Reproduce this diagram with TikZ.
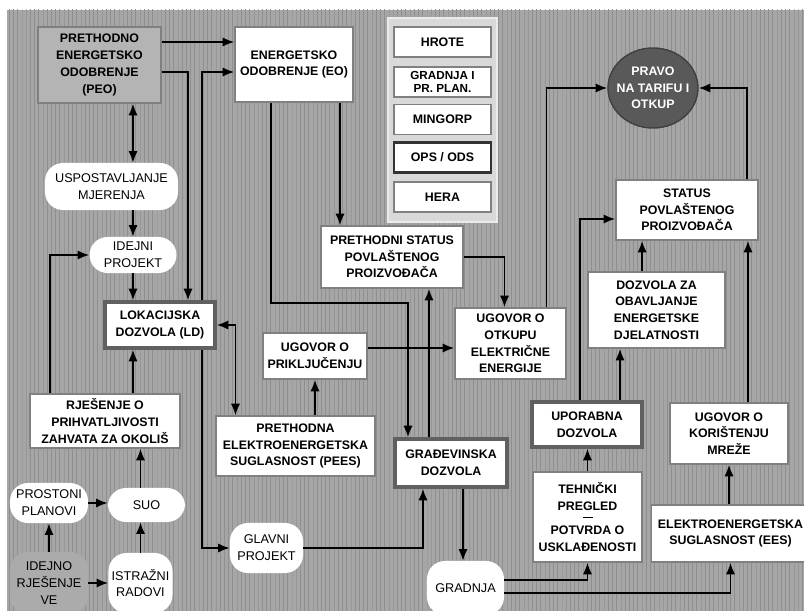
\documentclass[tikz,border=0pt]{standalone}
\usepackage{fontspec}
\setmainfont{Liberation Sans}
\usetikzlibrary{arrows.meta,positioning,calc,shapes.geometric,patterns}
\definecolor{bgray}{HTML}{A6A6A6}
\definecolor{stripe}{HTML}{8F8F8F}
\definecolor{edge}{HTML}{808080}
\definecolor{edgedk}{HTML}{606060}
\definecolor{peofill}{HTML}{B4B4B4}
\definecolor{vefill}{HTML}{ABABAB}
\definecolor{panel}{HTML}{D9D9D9}
\definecolor{pravofill}{HTML}{595959}

\begin{document}
\begin{tikzpicture}[x=0.025cm,y=-0.025cm,>={Latex[length=2.9mm,width=2.3mm]},
  txt/.style={font=\fontsize{8.8}{11.9}\selectfont\bfseries,align=center,inner sep=1pt},
  block/.style={txt,draw=edge,fill=white,line width=1pt},
  blockb/.style={block,draw=edgedk,line width=2.4pt},
  pill/.style={font=\fontsize{9}{11.9}\selectfont,align=center,fill=white,rounded corners=0.45cm,inner sep=1pt},
  leg/.style={block,minimum width=2.425cm,minimum height=0.75cm},
  con/.style={->,line width=1.3pt},
  con2/.style={<->,line width=1.3pt}]
  \useasboundingbox (0,0) rectangle (804,611);
  \clip (0,0) rectangle (804,611);
  % background
  \fill[white] (0,0) rectangle (804,611);
  \fill[bgray] (7,10) rectangle (804,611);
  \fill[pattern=vertical lines,pattern color=stripe] (7,10) rectangle (804,611);

  % legend
  \draw[fill=panel,draw=white!92!black,line width=1.5pt] (388,18) rectangle (497,222);
  \node[leg] (hrote) at (442.5,42) {HROTE};
  \node[leg,font=\fontsize{8.3}{8.9}\selectfont\bfseries] (gpp) at (442.5,82) {GRADNJA I\\PR. PLAN.};
  \node[leg] (mingorp) at (442.5,119.5) {MINGORP};
  \node[leg,draw=black!80,line width=1.8pt] (ops) at (442.5,157.5) {OPS / ODS};
  \node[leg] (hera) at (442.5,197) {HERA};

  % left column
  \node[block,fill=peofill,minimum width=3.075cm,minimum height=1.9cm] (peo) at (99.5,65) {PRETHODNO\\ENERGETSKO\\ODOBRENJE\\(PEO)};
  \node[block,minimum width=2.95cm,minimum height=1.875cm] (eo) at (294,64.5) {ENERGETSKO\\ODOBRENJE (EO)};
  \node[pill,minimum width=3.325cm,minimum height=1.175cm] (usp) at (111.5,186.5) {USPOSTAVLJANJE\\MJERENJA};
  \node[pill,minimum width=2.175cm,minimum height=0.9cm] (idejni) at (133,255) {IDEJNI\\PROJEKT};
  \node[blockb,minimum width=2.75cm,minimum height=1.15cm] (ld) at (160,325) {LOKACIJSKA\\DOZVOLA (LD)};
  \node[block,minimum width=3.75cm,minimum height=1.35cm] (rje) at (105,421) {RJEŠENJE O\\PRIHVATLJIVOSTI\\ZAHVATA ZA OKOLIŠ};
  \node[pill,minimum width=1.925cm,minimum height=0.85cm] (suo) at (146.5,505) {SUO};
  \node[pill,minimum width=1.95cm,minimum height=1cm] (pros) at (49,503) {PROSTONI\\PLANOVI};
  \node[pill,fill=vefill,minimum width=1.95cm,minimum height=1.55cm] (idejno) at (49,583) {IDEJNO\\RJEŠENJE\\VE};
  \node[pill,minimum width=1.6cm,minimum height=1.5cm] (istr) at (140.5,583) {ISTRAŽNI\\RADOVI};

  % middle
  \node[pill,minimum width=1.825cm,minimum height=1.25cm] (glavni) at (266.5,548) {GLAVNI\\PROJEKT};
  \node[blockb,minimum width=2.8cm,minimum height=1.2cm] (grad) at (451,463) {GRAĐEVINSKA\\DOZVOLA};
  \node[pill,minimum width=1.925cm,minimum height=1.35cm] (gradnja) at (465.5,588) {GRADNJA};
  \node[block,minimum width=3.55cm,minimum height=1.55cm] (pst) at (392,257) {PRETHODNI STATUS\\POVLAŠTENOG\\PROIZVOĐAČA};
  \node[block,minimum width=2.6cm,minimum height=1.15cm] (prik) at (315,356) {UGOVOR O\\PRIKLJUČENJU};
  \node[block,minimum width=3.975cm,minimum height=1.5cm] (pees) at (295.5,446) {PRETHODNA\\ELEKTROENERGETSKA\\SUGLASNOST (PEES)};
  \node[block,minimum width=2.775cm,minimum height=1.775cm] (otkup) at (510.5,343.5) {UGOVOR O\\OTKUPU\\ELEKTRIČNE\\ENERGIJE};

  % right
  \node[txt,ellipse,text=white,fill=pravofill,draw=black!75,line width=1pt,inner xsep=-3.3pt,inner ysep=5pt,minimum width=2.25cm,minimum height=2cm] (pravo) at (653,88) {PRAVO\\NA TARIFU I\\OTKUP};
  \node[block,minimum width=3.55cm,minimum height=1.5cm] (status) at (687,210) {STATUS\\POVLAŠTENOG\\PROIZVOĐAČA};
  \node[block,minimum width=3.425cm,minimum height=1.9cm] (doz) at (656.5,310) {DOZVOLA ZA\\OBAVLJANJE\\ENERGETSKE\\DJELATNOSTI};
  \node[blockb,minimum width=2.75cm,minimum height=1.125cm] (upor) at (587,424.5) {UPORABNA\\DOZVOLA};
  \node[block,minimum width=2.725cm,minimum height=2.25cm] (teh) at (587.5,517) {TEHNIČKI\\PREGLED\\[-6.2pt]\rule{0.25cm}{0.6pt}\\POTVRDA O\\USKLAĐENOSTI};
  \node[block,minimum width=2.95cm,minimum height=1.525cm] (kor) at (729,433.5) {UGOVOR O\\KORIŠTENJU\\MREŽE};
  \node[block,minimum width=3.95cm,minimum height=1.425cm] (ees) at (730.5,533.5) {ELEKTROENERGETSKA\\SUGLASNOST (EES)};

  % connectors
  \draw[con] ([yshift=0.575cm]peo.east) -- ([yshift=0.575cm]peo.east -| eo.west);
  \draw[con] ([yshift=-0.175cm]peo.east) -| ([xshift=0.7cm]ld.north);
  \draw[con] ([xshift=1.05cm]ld.north) |- ([yshift=-0.175cm]peo.east -| eo.west);
  \draw[con] ([xshift=1.05cm]ld.south) |- (glavni.west);
  \draw[con2] (peo.south -| idejni.north) -- (usp.north -| idejni.north);
  \draw[con] (usp.south -| idejni.north) -- (idejni.north);
  \draw[con] (idejni.south) -- (idejni.south |- ld.north);
  \draw[con] (rje.north -| idejni.south) -- (ld.south -| idejni.south);
  \draw[con] ([xshift=-1.375cm]rje.north) |- (idejni.west);
  \draw[con] (suo.north -| istr.north) -- (rje.south -| istr.north);
  \draw[con] (pros.east) -- (pros.east -| suo.west);
  \draw[con] (idejno.north) -- (pros.south);
  \draw[con] (idejno.east) -- (istr.west);
  \draw[con] (istr.north) -- (istr.north |- suo.south);
  \draw[con] (glavni.east) -| ([xshift=-0.7cm]grad.south);
  \draw[con] ([xshift=-0.575cm]eo.south) -- ++(0,200) -| ([xshift=-1.075cm]grad.north);
  \draw[con] ([xshift=1.15cm]eo.south) -- ([xshift=1.15cm]eo.south |- pst.north);
  \draw[con] ([xshift=-0.55cm]grad.north) -- ([xshift=-0.55cm]grad.north |- pst.south);
  \draw[con] (pst.east) -| ([xshift=-0.15cm]otkup.north);
  \draw[con] ([yshift=0.2cm]prik.east) -- ([yshift=0.2cm]prik.east -| otkup.west);
  \draw[con] (pees.north -| prik.south) -- (prik.south);
  \draw[con2] (ld.east) -| ([xshift=-1.5cm]pees.north);
  \draw[con] ([xshift=0.3cm]grad.south) -- ([xshift=0.3cm]grad.south |- gradnja.north);
  \draw[con] ([yshift=0.2cm]gradnja.east) -| (teh.south);
  \draw[con] ([yshift=-0.125cm]gradnja.east) -| (ees.south);
  \draw[con] (teh.north) -- (teh.north |- upor.south);
  \draw[con] ([xshift=0.825cm]upor.north) -- ([xshift=0.825cm]upor.north |- doz.south);
  \draw[con] ([xshift=-0.175cm]upor.north) |- ([yshift=-0.225cm]status.west);
  \draw[con] ([xshift=-0.36cm]doz.north) -- ([xshift=-0.36cm]doz.north |- status.south);
  \draw[con] (kor.south |- ees.north) -- (kor.south);
  \draw[con] ([xshift=0.475cm]kor.north) -- ([xshift=0.475cm]kor.north |- status.south);
  \draw[con] ([xshift=1.5cm]status.north) |- (pravo.east);
  \draw[con] ([xshift=0.9cm]otkup.north) |- (pravo.west);
\end{tikzpicture}
\end{document}
